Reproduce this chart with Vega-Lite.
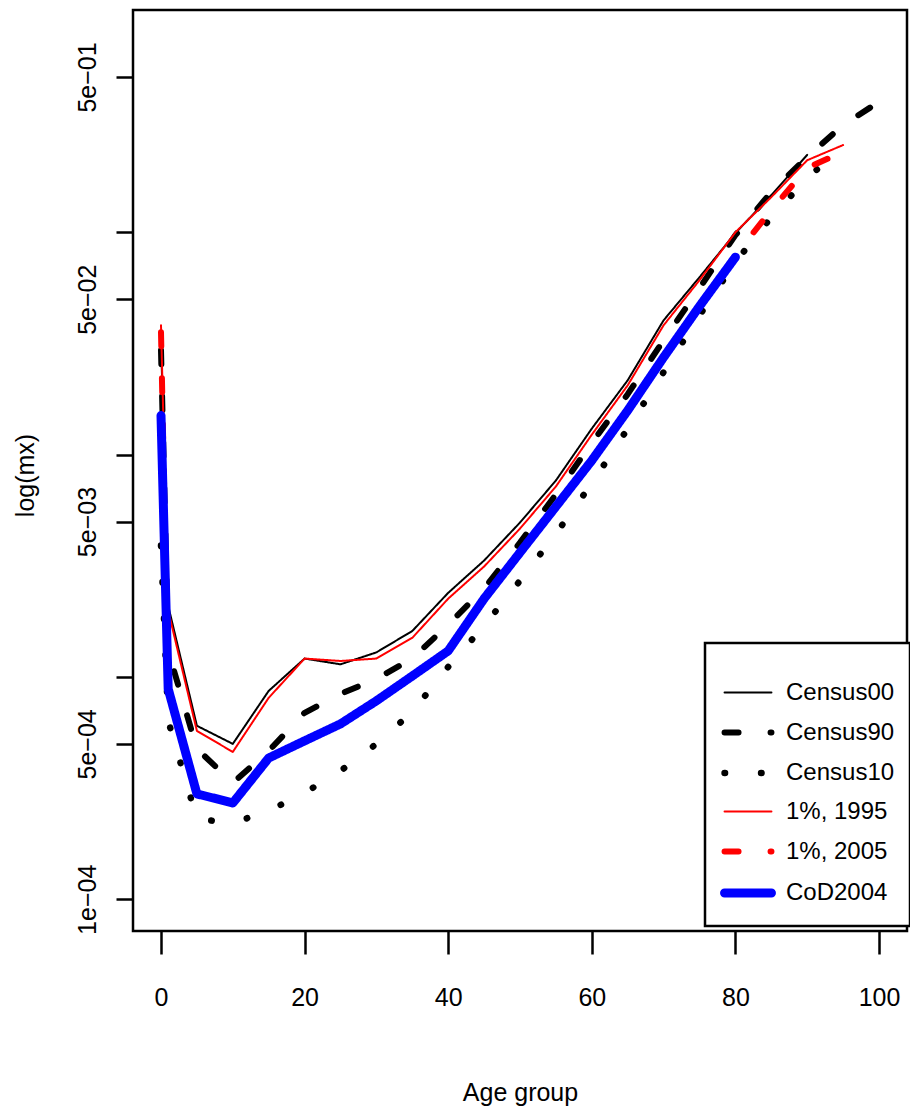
{
  "$schema": "https://vega.github.io/schema/vega-lite/v6.json",
  "width": 774,
  "height": 921,
  "autosize": {"type": "none"},
  "padding": {"left": 133, "top": 10, "right": 3, "bottom": 189},
  "background": "white",
  "config": {
    "view": {"stroke": "black", "strokeWidth": 2.5},
    "font": "Liberation Sans",
    "axis": {
      "domain": false, "grid": false,
      "tickColor": "black", "tickWidth": 2.5,
      "labelColor": "black", "labelFont": "Liberation Sans", "labelFontSize": 25,
      "titleFont": "Liberation Sans", "titleFontWeight": "normal", "titleFontSize": 25, "titleColor": "black"
    }
  },
  "data": {
    "values": [
      {"s": "Census00", "age": 0, "mx": 0.0334},
      {"s": "Census00", "age": 1, "mx": 0.00209},
      {"s": "Census00", "age": 5, "mx": 0.000603},
      {"s": "Census00", "age": 10, "mx": 0.000500},
      {"s": "Census00", "age": 15, "mx": 0.000866},
      {"s": "Census00", "age": 20, "mx": 0.00121},
      {"s": "Census00", "age": 25, "mx": 0.00114},
      {"s": "Census00", "age": 30, "mx": 0.00129},
      {"s": "Census00", "age": 35, "mx": 0.00161},
      {"s": "Census00", "age": 40, "mx": 0.00239},
      {"s": "Census00", "age": 45, "mx": 0.00334},
      {"s": "Census00", "age": 50, "mx": 0.00495},
      {"s": "Census00", "age": 55, "mx": 0.00765},
      {"s": "Census00", "age": 60, "mx": 0.0131},
      {"s": "Census00", "age": 65, "mx": 0.0216},
      {"s": "Census00", "age": 70, "mx": 0.0402},
      {"s": "Census00", "age": 75, "mx": 0.0628},
      {"s": "Census00", "age": 80, "mx": 0.0992},
      {"s": "Census00", "age": 85, "mx": 0.147},
      {"s": "Census00", "age": 90, "mx": 0.223},

      {"s": "Census90", "age": 0, "mx": 0.0295},
      {"s": "Census90", "age": 1, "mx": 0.00131},
      {"s": "Census90", "age": 5, "mx": 0.000475},
      {"s": "Census90", "age": 10, "mx": 0.000334},
      {"s": "Census90", "age": 15, "mx": 0.000465},
      {"s": "Census90", "age": 20, "mx": 0.000690},
      {"s": "Census90", "age": 25, "mx": 0.000839},
      {"s": "Census90", "age": 30, "mx": 0.000981},
      {"s": "Census90", "age": 35, "mx": 0.00121},
      {"s": "Census90", "age": 40, "mx": 0.00172},
      {"s": "Census90", "age": 45, "mx": 0.00250},
      {"s": "Census90", "age": 50, "mx": 0.00402},
      {"s": "Census90", "age": 55, "mx": 0.00662},
      {"s": "Census90", "age": 60, "mx": 0.0113},
      {"s": "Census90", "age": 65, "mx": 0.0187},
      {"s": "Census90", "age": 70, "mx": 0.0327},
      {"s": "Census90", "age": 75, "mx": 0.0561},
      {"s": "Census90", "age": 80, "mx": 0.0971},
      {"s": "Census90", "age": 85, "mx": 0.152},
      {"s": "Census90", "age": 90, "mx": 0.218},
      {"s": "Census90", "age": 95, "mx": 0.304},
      {"s": "Census90", "age": 100, "mx": 0.386},

      {"s": "Census10", "age": 0, "mx": 0.00390},
      {"s": "Census10", "age": 1, "mx": 0.000635},
      {"s": "Census10", "age": 5, "mx": 0.000230},
      {"s": "Census10", "age": 10, "mx": 0.000220},
      {"s": "Census10", "age": 15, "mx": 0.000250},
      {"s": "Census10", "age": 20, "mx": 0.000301},
      {"s": "Census10", "age": 25, "mx": 0.000378},
      {"s": "Census10", "age": 30, "mx": 0.000500},
      {"s": "Census10", "age": 35, "mx": 0.000697},
      {"s": "Census10", "age": 40, "mx": 0.00111},
      {"s": "Census10", "age": 45, "mx": 0.00170},
      {"s": "Census10", "age": 50, "mx": 0.00271},
      {"s": "Census10", "age": 55, "mx": 0.00441},
      {"s": "Census10", "age": 60, "mx": 0.00742},
      {"s": "Census10", "age": 65, "mx": 0.0131},
      {"s": "Census10", "age": 70, "mx": 0.0235},
      {"s": "Census10", "age": 75, "mx": 0.0423},
      {"s": "Census10", "age": 80, "mx": 0.0734},
      {"s": "Census10", "age": 85, "mx": 0.117},
      {"s": "Census10", "age": 90, "mx": 0.175},
      {"s": "Census10", "age": 95, "mx": 0.244},

      {"s": "1%, 1995", "age": 0, "mx": 0.0382},
      {"s": "1%, 1995", "age": 1, "mx": 0.00199},
      {"s": "1%, 1995", "age": 5, "mx": 0.000572},
      {"s": "1%, 1995", "age": 10, "mx": 0.000460},
      {"s": "1%, 1995", "age": 15, "mx": 0.000806},
      {"s": "1%, 1995", "age": 20, "mx": 0.00121},
      {"s": "1%, 1995", "age": 25, "mx": 0.00118},
      {"s": "1%, 1995", "age": 30, "mx": 0.00121},
      {"s": "1%, 1995", "age": 35, "mx": 0.00150},
      {"s": "1%, 1995", "age": 40, "mx": 0.00225},
      {"s": "1%, 1995", "age": 45, "mx": 0.00314},
      {"s": "1%, 1995", "age": 50, "mx": 0.00465},
      {"s": "1%, 1995", "age": 55, "mx": 0.00719},
      {"s": "1%, 1995", "age": 60, "mx": 0.0123},
      {"s": "1%, 1995", "age": 65, "mx": 0.0205},
      {"s": "1%, 1995", "age": 70, "mx": 0.0382},
      {"s": "1%, 1995", "age": 75, "mx": 0.0609},
      {"s": "1%, 1995", "age": 80, "mx": 0.100},
      {"s": "1%, 1995", "age": 85, "mx": 0.144},
      {"s": "1%, 1995", "age": 90, "mx": 0.211},
      {"s": "1%, 1995", "age": 95, "mx": 0.247},

      {"s": "1%, 2005", "age": 0, "mx": 0.0355},
      {"s": "1%, 2005", "age": 1, "mx": 0.000890},
      {"s": "1%, 2005", "age": 5, "mx": 0.000300},
      {"s": "1%, 2005", "age": 10, "mx": 0.000270},
      {"s": "1%, 2005", "age": 15, "mx": 0.000430},
      {"s": "1%, 2005", "age": 20, "mx": 0.000520},
      {"s": "1%, 2005", "age": 25, "mx": 0.000620},
      {"s": "1%, 2005", "age": 30, "mx": 0.000780},
      {"s": "1%, 2005", "age": 35, "mx": 0.00101},
      {"s": "1%, 2005", "age": 40, "mx": 0.00130},
      {"s": "1%, 2005", "age": 45, "mx": 0.00226},
      {"s": "1%, 2005", "age": 50, "mx": 0.00362},
      {"s": "1%, 2005", "age": 55, "mx": 0.00585},
      {"s": "1%, 2005", "age": 60, "mx": 0.00940},
      {"s": "1%, 2005", "age": 65, "mx": 0.0158},
      {"s": "1%, 2005", "age": 70, "mx": 0.0274},
      {"s": "1%, 2005", "age": 75, "mx": 0.0465},
      {"s": "1%, 2005", "age": 80, "mx": 0.0789},
      {"s": "1%, 2005", "age": 85, "mx": 0.126},
      {"s": "1%, 2005", "age": 90, "mx": 0.195},
      {"s": "1%, 2005", "age": 95, "mx": 0.230},

      {"s": "CoD2004", "age": 0, "mx": 0.0150},
      {"s": "CoD2004", "age": 1, "mx": 0.000884},
      {"s": "CoD2004", "age": 5, "mx": 0.000298},
      {"s": "CoD2004", "age": 10, "mx": 0.000271},
      {"s": "CoD2004", "age": 15, "mx": 0.000432},
      {"s": "CoD2004", "age": 20, "mx": 0.000516},
      {"s": "CoD2004", "age": 25, "mx": 0.000615},
      {"s": "CoD2004", "age": 30, "mx": 0.000781},
      {"s": "CoD2004", "age": 35, "mx": 0.00101},
      {"s": "CoD2004", "age": 40, "mx": 0.00131},
      {"s": "CoD2004", "age": 45, "mx": 0.00225},
      {"s": "CoD2004", "age": 50, "mx": 0.00363},
      {"s": "CoD2004", "age": 55, "mx": 0.00584},
      {"s": "CoD2004", "age": 60, "mx": 0.00941},
      {"s": "CoD2004", "age": 65, "mx": 0.0158},
      {"s": "CoD2004", "age": 70, "mx": 0.0274},
      {"s": "CoD2004", "age": 75, "mx": 0.0465},
      {"s": "CoD2004", "age": 80, "mx": 0.0773}
    ]
  },
  "mark": {"type": "line", "strokeCap": "round", "strokeJoin": "round"},
  "encoding": {
    "x": {
      "field": "age", "type": "quantitative",
      "scale": {"domain": [-3.9, 103.9], "nice": false, "zero": false},
      "axis": {
        "values": [0, 20, 40, 60, 80, 100], "title": "Age group",
        "tickSize": 23, "labelPadding": 31, "labelBaseline": "top",
        "labelFlush": false, "labelOverlap": false,
        "titleY": 169, "titleBaseline": "alphabetic"
      }
    },
    "y": {
      "field": "mx", "type": "quantitative",
      "scale": {"type": "log", "domain": [0.000072, 1.0], "nice": false},
      "axis": {
        "values": [0.0001, 0.0005, 0.001, 0.005, 0.01, 0.05, 0.1, 0.5],
        "labelExpr": "datum.value === 0.5 ? '5e\u221201' : datum.value === 0.05 ? '5e\u221202' : datum.value === 0.005 ? '5e\u221203' : datum.value === 0.0005 ? '5e\u221204' : datum.value === 0.0001 ? '1e\u221204' : ''",
        "tickSize": 17, "labelAngle": -90, "labelAlign": "center", "labelBaseline": "bottom",
        "labelPadding": 16, "labelOverlap": false,
        "title": "log(mx)", "titleX": -95, "titleY": 465, "titleAngle": -90,
        "titleBaseline": "bottom", "titleAlign": "center"
      }
    },
    "color": {
      "field": "s", "type": "nominal",
      "scale": {
        "domain": ["Census00", "Census90", "Census10", "1%, 1995", "1%, 2005", "CoD2004"],
        "range": ["#000000", "#000000", "#000000", "#ff0000", "#ff0000", "#0000ff"]
      },
      "legend": {
        "title": " ", "titleFontSize": 2, "titlePadding": 8,
        "orient": "none", "legendX": 572, "legendY": 633,
        "symbolType": "stroke", "symbolSize": 2200,
        "labelFontSize": 24, "labelFont": "Liberation Sans", "labelColor": "black",
        "labelOffset": 10, "padding": 15, "rowPadding": 1, "labelLimit": 300,
        "strokeColor": "black", "fillColor": "white",
        "encode": {
          "legend": {"update": {"strokeWidth": {"value": 2.5}}},
          "symbols": {"update": {"strokeCap": {"value": "round"}}}
        }
      }
    },
    "strokeDash": {
      "field": "s", "type": "nominal",
      "scale": {
        "domain": ["Census00", "Census90", "Census10", "1%, 1995", "1%, 2005", "CoD2004"],
        "range": [[1, 0], [14, 32], [0.5, 36], [1, 0], [14, 32], [1, 0]]
      }
    },
    "strokeWidth": {
      "field": "s", "type": "nominal",
      "scale": {
        "type": "ordinal",
        "domain": ["Census00", "Census90", "Census10", "1%, 1995", "1%, 2005", "CoD2004"],
        "range": [2, 6, 6.5, 2, 6, 9]
      }
    },
    "order": {"field": "age", "type": "quantitative"}
  }
}
